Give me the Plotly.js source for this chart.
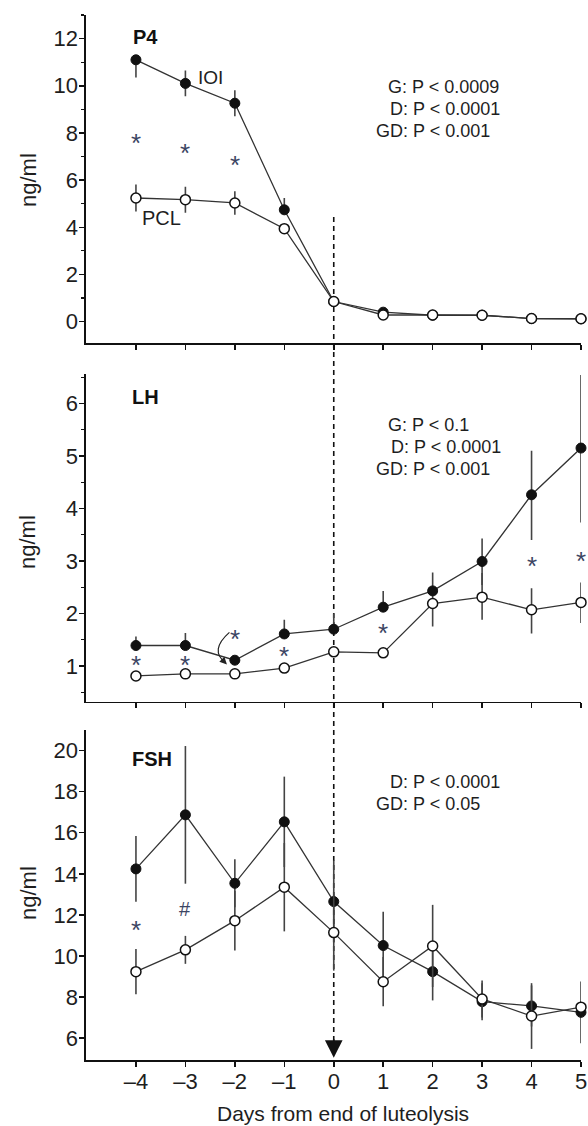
<!DOCTYPE html>
<html>
<head>
<meta charset="utf-8">
<script src="https://cdn.plot.ly/plotly-3.0.1.min.js"></script>
<style>html,body{margin:0;padding:0;background:#fff}#chart{width:588px;height:1126px}</style>
</head>
<body>
<div id="chart"></div>
<script>
// ---------- data ----------
const days = [-4, -3, -2, -1, 0, 1, 2, 3, 4, 5];
const dayLabels = ['–4', '–3', '–2', '–1', '0', '1', '2', '3', '4', '5'];

// P4 (ng/ml)
const p4IOI = [11.1, 10.1, 9.26, 4.74, 0.85, 0.40, 0.27, 0.27, 0.13, 0.12];
const p4IOIErrUp = [0.0, 0.55, 0.55, 0.5, 0, 0, 0, 0, 0, 0];
const p4IOIErrDn = [0.75, 0.55, 0.55, 0.2, 0, 0, 0, 0, 0, 0];
const p4PCL = [5.24, 5.17, 5.03, 3.94, 0.85, 0.28, 0.28, 0.27, 0.13, 0.12];
const p4PCLErr = [0.57, 0.55, 0.5, 0.15, 0, 0, 0, 0, 0, 0];
const p4StarDays = [-4, -3, -2];
const p4StarY = [7.71, 7.28, 6.76];

// LH (ng/ml)
const lhIOI = [1.39, 1.39, 1.11, 1.61, 1.70, 2.12, 2.43, 2.99, 4.26, 5.15];
const lhIOIErrUp = [0.17, 0.24, 0.0, 0.27, 0.30, 0.31, 0.35, 0.44, 0.84, 1.39];
const lhIOIErrDn = [0, 0, 0, 0, 0, 0, 0.2, 0.45, 0.86, 1.42];
const lhPCL = [0.81, 0.85, 0.85, 0.96, 1.27, 1.25, 2.19, 2.31, 2.07, 2.21];
const lhPCLErrUp = [0, 0, 0, 0, 0, 0, 0.1, 0.46, 0.41, 0.38];
const lhPCLErrDn = [0, 0, 0, 0, 0, 0, 0.44, 0.43, 0.45, 0.39];
const lhStarDays = [-4, -3, -2, -1, 1, 4, 5];
const lhStarY = [1.08, 1.08, 1.57, 1.24, 1.69, 2.96, 3.05];

// FSH (ng/ml)
const fshIOI = [14.24, 16.87, 13.54, 16.53, 12.65, 10.51, 9.24, 7.78, 7.57, 7.26];
const fshIOIErr = [1.6, 3.35, 1.17, 2.2, 2.0, 1.65, 1.4, 0.9, 1.0, 1.5];
const fshPCL = [9.24, 10.3, 11.72, 13.35, 11.14, 8.75, 10.49, 7.91, 7.08, 7.51];
const fshPCLErr = [1.1, 0.68, 1.45, 2.15, 1.85, 1.2, 2.0, 0.9, 1.6, 0.3];
const fshMarkDays = [-4, -3];
const fshMarkY = [11.43, 12.28];
const fshMarkText = ['*', '#'];

// ---------- style ----------
const FONT = 'Liberation Sans, Arial, Helvetica, sans-serif';
const INK = '#1e1e1e';
const LINE = '#333';
const ERR = '#444';
const STAR = '#3c4563';

function ioiTrace(y, up, dn, xa, ya) {
  return {
    x: days, y: y, xaxis: xa, yaxis: ya, type: 'scatter', mode: 'lines+markers',
    line: {color: LINE, width: 1.3},
    marker: {symbol: 'circle', size: 10, color: '#111', line: {color: '#111', width: 1}},
    error_y: {type: 'data', symmetric: false, array: up, arrayminus: dn, color: ERR, thickness: 1.6, width: 0},
    cliponaxis: false, showlegend: false, hoverinfo: 'skip'
  };
}
function pclTrace(y, up, dn, xa, ya) {
  return {
    x: days, y: y, xaxis: xa, yaxis: ya, type: 'scatter', mode: 'lines+markers',
    line: {color: LINE, width: 1.3},
    marker: {symbol: 'circle', size: 10, color: '#fff', line: {color: '#111', width: 1.5}},
    error_y: {type: 'data', symmetric: false, array: up, arrayminus: dn, color: ERR, thickness: 1.6, width: 0},
    cliponaxis: false, showlegend: false, hoverinfo: 'skip'
  };
}

const traces = [
  ioiTrace(p4IOI, p4IOIErrUp, p4IOIErrDn, 'x', 'y'),
  pclTrace(p4PCL, p4PCLErr, p4PCLErr, 'x', 'y'),
  ioiTrace(lhIOI, lhIOIErrUp, lhIOIErrDn, 'x2', 'y2'),
  pclTrace(lhPCL, lhPCLErrUp, lhPCLErrDn, 'x2', 'y2'),
  ioiTrace(fshIOI, fshIOIErr, fshIOIErr, 'x3', 'y3'),
  pclTrace(fshPCL, fshPCLErr, fshPCLErr, 'x3', 'y3')
];

const H = 1126, W = 588;
const xDomain = [86 / W, 581 / W];
const xRange = [-5.01, 5.0];
function xAxis(anchor, labels) {
  return {
    domain: xDomain, range: xRange, anchor: anchor,
    showline: true, linecolor: '#111', linewidth: 1.6, mirror: false,
    ticks: 'outside', ticklen: 5, tickwidth: 1.5, tickcolor: '#111',
    tickmode: 'array', tickvals: days, ticktext: dayLabels,
    showticklabels: labels, ticklabelstandoff: -4,
    tickfont: {family: FONT, size: 22, color: INK},
    showgrid: false, zeroline: false, fixedrange: true
  };
}
function yAxis(anchor, dom, range, dtick, minor) {
  const ax = {
    domain: dom, range: range, anchor: anchor,
    showline: true, linecolor: '#111', linewidth: 1.6,
    ticks: 'outside', ticklen: 5, tickwidth: 1.5, tickcolor: '#111',
    tick0: 0, dtick: dtick, ticklabelstandoff: -3,
    tickfont: {family: FONT, size: 22, color: INK},
    showgrid: false, zeroline: false, fixedrange: true
  };
  if (minor) ax.minor = {dtick: minor, ticklen: 3, tickwidth: 1.2, tickcolor: '#111', ticks: 'outside', showgrid: false};
  return ax;
}

function pxToX(px) { return xRange[0] + (px - 86) / 49.45; }

function note(text, xpx, y, xref, yref, opts) {
  return Object.assign({
    text: text, x: pxToX(xpx), y: y, xref: xref, yref: yref,
    xanchor: 'left', yanchor: 'middle', showarrow: false,
    font: {family: FONT, size: 18, color: INK}
  }, opts || {});
}
function marks(xs, ys, texts, xref, yref, size, shift) {
  return xs.map((x, i) => ({
    text: texts[i], x: x, y: ys[i], xref: xref, yref: yref,
    xanchor: 'center', yanchor: 'middle', yshift: shift, showarrow: false,
    font: {family: FONT, size: size, color: STAR}
  }));
}

const annotations = [
  // panel labels
  note('<b>P4</b>', 131, 12.07, 'x', 'y', {font: {family: FONT, size: 20, color: '#111'}}),
  note('<b>LH</b>', 130, 6.13, 'x2', 'y2', {font: {family: FONT, size: 20, color: '#111'}}),
  note('<b>FSH</b>', 130, 19.58, 'x3', 'y3', {font: {family: FONT, size: 20, color: '#111'}}),
  note('IOI', 210, 10.37, 'x', 'y', {xanchor: 'center', font: {family: FONT, size: 19, color: INK}}),
  note('PCL', 161.5, 4.39, 'x', 'y', {xanchor: 'center', font: {family: FONT, size: 20, color: INK}}),
  // stats P4
  note('G: P &lt; 0.0009', 386, 9.96, 'x', 'y'),
  note('D: P &lt; 0.0001', 388, 9.02, 'x', 'y'),
  note('GD: P &lt; 0.001', 374, 8.09, 'x', 'y'),
  // stats LH
  note('G: P &lt; 0.1', 386, 5.59, 'x2', 'y2'),
  note('D: P &lt; 0.0001', 389, 5.17, 'x2', 'y2'),
  note('GD: P &lt; 0.001', 374, 4.75, 'x2', 'y2'),
  // stats FSH
  note('D: P &lt; 0.0001', 388, 18.47, 'x3', 'y3'),
  note('GD: P &lt; 0.05', 374, 17.40, 'x3', 'y3'),
  // y titles
  {text: 'ng/ml', xref: 'paper', yref: 'paper', x: 28 / W, y: 1 - 180 / H, textangle: -90,
   xanchor: 'center', yanchor: 'middle', showarrow: false, font: {family: FONT, size: 22, color: INK}},
  {text: 'ng/ml', xref: 'paper', yref: 'paper', x: 28 / W, y: 1 - 542 / H, textangle: -90,
   xanchor: 'center', yanchor: 'middle', showarrow: false, font: {family: FONT, size: 22, color: INK}},
  {text: 'ng/ml', xref: 'paper', yref: 'paper', x: 28 / W, y: 1 - 893 / H, textangle: -90,
   xanchor: 'center', yanchor: 'middle', showarrow: false, font: {family: FONT, size: 22, color: INK}},
  // x title
  {text: 'Days from end of luteolysis', xref: 'paper', yref: 'paper', x: 342.5 / W, y: 1 - 1113 / H,
   xanchor: 'center', yanchor: 'middle', showarrow: false, font: {family: FONT, size: 21, color: INK}},
  // arrow head at end of dashed line
  {text: '', xref: 'x3', yref: 'y3', x: 0, y: 5.05, ax: 0, ay: -20, axref: 'pixel', ayref: 'pixel',
   showarrow: true, arrowhead: 2, arrowsize: 2.2, arrowwidth: 1.6, arrowcolor: '#111'},
  // small curved-arrow head in LH panel
  {text: '', xref: 'x2', yref: 'y2', x: -2.16, y: 1.03, ax: -6, ay: -6,
   showarrow: true, arrowhead: 2, arrowsize: 1.2, arrowwidth: 1.2, arrowcolor: '#222'}
].concat(
  marks(p4StarDays, p4StarY, p4StarDays.map(() => '*'), 'x', 'y', 26, -3),
  marks(lhStarDays, lhStarY, lhStarDays.map(() => '*'), 'x2', 'y2', 26, -3),
  marks(fshMarkDays, fshMarkY, fshMarkText, 'x3', 'y3', 26, 0).map((a, i) =>
    Object.assign(a, {font: {family: FONT, size: i === 0 ? 26 : 20, color: STAR}, yshift: i === 0 ? -3 : 0}))
);

const shapes = [
  {type: 'line', xref: 'x', yref: 'paper', x0: 0, x1: 0, y0: 1 - 217 / H, y1: 1 - 1042 / H,
   line: {color: '#111', width: 1.6, dash: '5px,4px'}, layer: 'below'},
  {type: 'path', xref: 'x2', yref: 'y2', path: 'M -2.11,1.64 Q -2.52,1.30 -2.19,1.06',
   line: {color: '#222', width: 1.2}}
];

const layout = {
  width: W, height: H,
  margin: {l: 0, r: 0, t: 0, b: 0, pad: 0},
  paper_bgcolor: '#fff', plot_bgcolor: 'rgba(0,0,0,0)',
  showlegend: false,
  xaxis: xAxis('y', false),
  xaxis2: xAxis('y2', false),
  xaxis3: xAxis('y3', true),
  yaxis: yAxis('x', [1 - 343.3 / H, 1 - 15 / H], [-0.92, 13], 2, 1),
  yaxis2: yAxis('x2', [1 - 701.7 / H, 1 - 374 / H], [0.32, 6.56], 1, 0.5),
  yaxis3: yAxis('x3', [1 - 1060 / H, 1 - 730 / H], [4.94, 21], 2, null),
  annotations: annotations,
  shapes: shapes,
  font: {family: FONT}
};

Plotly.newPlot('chart', traces, layout, {staticPlot: true, displayModeBar: false});
</script>
</body>
</html>
